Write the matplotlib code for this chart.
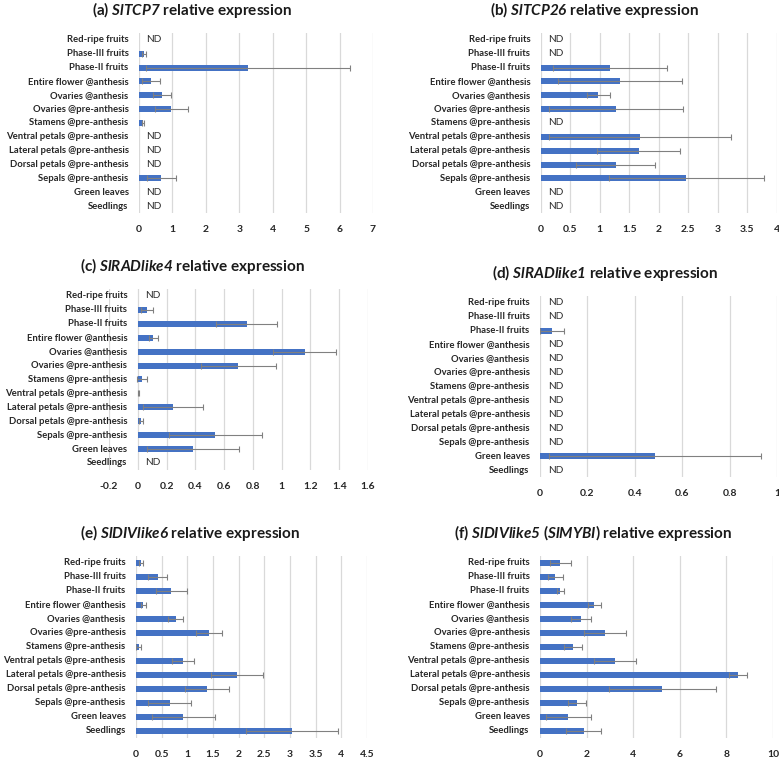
import numpy as np
import matplotlib.pyplot as plt

plt.rcParams['font.family'] = ['Lato', 'DejaVu Sans']
plt.rcParams['mathtext.fontset'] = 'custom'
plt.rcParams['mathtext.rm'] = 'Lato:bold'
plt.rcParams['mathtext.bf'] = 'Lato:bold'
plt.rcParams['mathtext.it'] = 'Lato:italic:bold'
plt.rcParams['mathtext.bfit'] = 'Lato:italic:bold'

nan = np.nan

categories = ['Red-ripe fruits', 'Phase-III fruits', 'Phase-II fruits',
              'Entire flower @anthesis', 'Ovaries @anthesis',
              'Ovaries @pre-anthesis', 'Stamens @pre-anthesis',
              'Ventral petals @pre-anthesis', 'Lateral petals @pre-anthesis',
              'Dorsal petals @pre-anthesis', 'Sepals @pre-anthesis',
              'Green leaves', 'Seedlings']

# NaN = ND (not detected)
tcp7_mean = [nan, 0.15, 3.26, 0.36, 0.69, 0.97, 0.11, nan, nan, nan, 0.67, nan, nan]
tcp7_err = [nan, 0.05, 3.06, 0.26, 0.27, 0.49, 0.03, nan, nan, nan, 0.43, nan, nan]

tcp26_mean = [nan, nan, 1.18, 1.34, 0.98, 1.28, nan, 1.68, 1.66, 1.27, 2.47, nan, nan]
tcp26_err = [nan, nan, 0.97, 1.05, 0.20, 1.13, nan, 1.54, 0.70, 0.67, 1.31, nan, nan]

rad4_mean = [nan, 0.065, 0.757, 0.109, 1.16, 0.70, 0.03, 0.005, 0.245, 0.025, 0.54, 0.386, nan]
rad4_err = [nan, 0.04, 0.213, 0.03, 0.217, 0.26, 0.037, 0.003, 0.206, 0.013, 0.32, 0.32, nan]

rad1_mean = [nan, nan, 0.05, nan, nan, nan, nan, nan, nan, nan, nan, 0.485, nan]
rad1_err = [nan, nan, 0.05, nan, nan, nan, nan, nan, nan, nan, nan, 0.447, nan]

div6_mean = [0.10, 0.42, 0.69, 0.14, 0.77, 1.42, 0.05, 0.92, 1.97, 1.38, 0.66, 0.92, 3.04]
div6_err = [0.045, 0.19, 0.31, 0.045, 0.15, 0.25, 0.05, 0.21, 0.50, 0.43, 0.42, 0.61, 0.90]

div5_mean = [0.87, 0.66, 0.87, 2.33, 1.75, 2.79, 1.43, 3.23, 8.51, 5.25, 1.59, 1.22, 1.87]
div5_err = [0.46, 0.31, 0.14, 0.27, 0.44, 0.90, 0.39, 0.90, 0.39, 2.29, 0.37, 0.98, 0.76]

titles = [r'(a) $\mathbfit{SlTCP7}$ relative expression',
          r'(b) $\mathbfit{SlTCP26}$ relative expression',
          r'(c) $\mathbfit{SlRADlike4}$ relative expression',
          r'(d) $\mathbfit{SlRADlike1}$ relative expression',
          r'(e) $\mathbfit{SlDIVlike6}$ relative expression',
          r'(f) $\mathbfit{SlDIVlike5}$ ($\mathbfit{SlMYBI}$) relative expression']

xticks = [np.arange(0, 7.01, 1), np.arange(0, 4.01, 0.5), np.arange(-0.2, 1.61, 0.2),
          np.arange(0, 1.01, 0.2), np.arange(0, 4.51, 0.5), np.arange(0, 10.01, 2)]

panels = [(tcp7_mean, tcp7_err), (tcp26_mean, tcp26_err), (rad4_mean, rad4_err),
          (rad1_mean, rad1_err), (div6_mean, div6_err), (div5_mean, div5_err)]

# axes boxes [left, bottom, width, height] and title centres
boxes = [[0.1784, 0.719, 0.3004, 0.2375], [0.694, 0.719, 0.303, 0.2375],
         [0.1399, 0.380, 0.3325, 0.2388], [0.6932, 0.3707, 0.3042, 0.2388],
         [0.1746, 0.0264, 0.2964, 0.2401], [0.6932, 0.0264, 0.2991, 0.2401]]
title_pos = [(0.2465, 0.9868), (0.7625, 0.9868), (0.2465, 0.649),
             (0.7767, 0.6398), (0.244, 0.2968), (0.761, 0.2968)]

fig = plt.figure(figsize=(7.79, 7.58), dpi=100)
y = np.arange(len(categories))

for i in range(6):
    mean, err = panels[i]
    mean = np.array(mean, dtype=float)
    err = np.array(err, dtype=float)
    ax = fig.add_axes(boxes[i])
    ax.barh(y, np.nan_to_num(mean), height=0.43, color='#4472C4', zorder=2)
    ax.errorbar(mean, y, xerr=err, fmt='none', ecolor='#808080', elinewidth=0.8,
                capsize=2, capthick=0.8, zorder=3)
    # category labels sit next to the value axis (x = 0), like Excel does
    for j in range(len(categories)):
        ax.annotate(categories[j], xy=(0, j), xytext=(-7.5, 0), textcoords='offset points',
                    va='center', ha='right', fontsize=6.85, fontweight='bold',
                    color='#262626', annotation_clip=False)
        if np.isnan(mean[j]):
            ax.annotate('ND', xy=(0, j), xytext=(5.5, 0), textcoords='offset points',
                        va='center', ha='left', fontsize=7.3, color='#303030')
    ticks = xticks[i]
    ax.set_xticks(ticks)
    ax.set_xticklabels(['{:g}'.format(round(t, 2)) for t in ticks])
    ax.set_xlim(ticks[0], ticks[-1])
    ax.set_yticks([])
    ax.set_ylim(len(categories) - 0.5, -0.5)
    ax.grid(axis='x', color='#d9d9d9', linewidth=0.9, zorder=0)
    ax.set_axisbelow(True)
    for s in ax.spines.values():
        s.set_visible(False)
    ax.tick_params(left=False, bottom=False, colors='#262626')
    ax.tick_params(axis='x', pad=5, labelsize=7.5)
    for lab in ax.get_xticklabels():
        lab.set_fontweight('bold')
    fig.text(title_pos[i][0], title_pos[i][1], titles[i], ha='center', va='center',
             fontsize=11, fontweight='bold', color='#1a1a1a')

fig.savefig('out.png', dpi=100)
